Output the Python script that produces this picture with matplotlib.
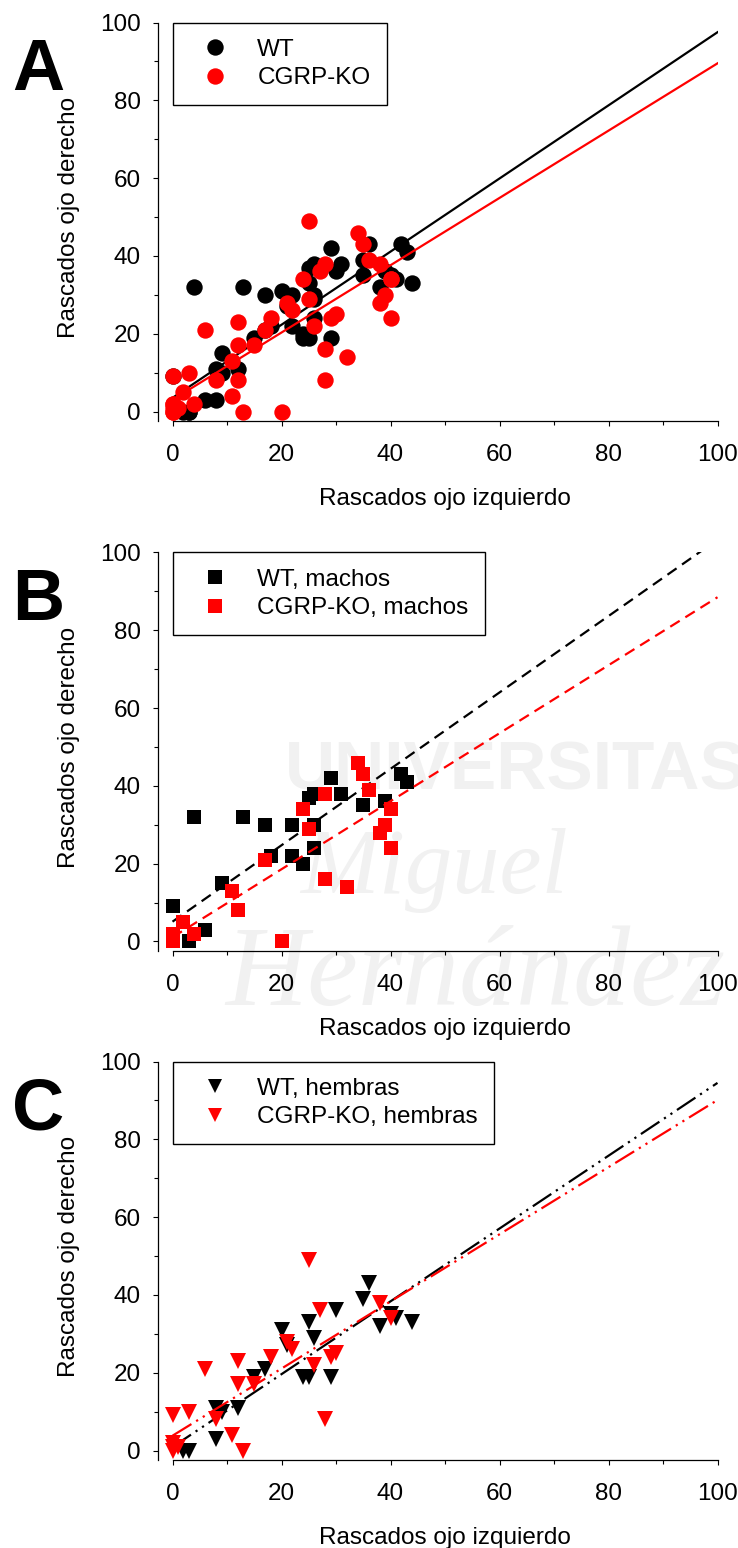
import matplotlib
matplotlib.use("Agg")
import matplotlib.pyplot as plt
from matplotlib.ticker import MultipleLocator

plt.rcParams['font.family'] = ['Liberation Sans', 'DejaVu Sans']

# ---- datos ----
# machos
wt_m_x = [0, 3, 6, 4, 13, 9, 17, 18, 22, 22, 24, 25, 26, 26, 26, 29, 31, 35, 39, 42, 43]
wt_m_y = [9, 0, 3, 32, 32, 15, 30, 22, 30, 22, 20, 37, 38, 30, 24, 42, 38, 35, 36, 43, 41]
ko_m_x = [0, 0, 2, 4, 11, 12, 17, 20, 24, 25, 28, 28, 32, 34, 35, 36, 38, 39, 40, 40]
ko_m_y = [0, 2, 5, 2, 13, 8, 21, 0, 34, 29, 38, 16, 14, 46, 43, 39, 28, 30, 34, 24]
# hembras
wt_f_x = [2, 3, 8, 8, 9, 12, 15, 17, 20, 21, 24, 25, 25, 26, 29, 30, 35, 36, 38, 40, 41, 44]
wt_f_y = [0, 0, 3, 11, 10, 11, 19, 21, 31, 27, 19, 19, 33, 29, 19, 36, 39, 43, 32, 35, 34, 33]
ko_f_x = [0, 0, 0, 1, 0, 3, 6, 8, 11, 12, 12, 13, 15, 18, 21, 22, 25, 26, 27, 28, 29, 30, 38, 40]
ko_f_y = [0, 1, 2, 1, 9, 10, 21, 8, 4, 23, 17, 0, 17, 24, 28, 26, 49, 22, 36, 8, 24, 25, 38, 34]
# todos
wt_all_x = wt_m_x + wt_f_x
wt_all_y = wt_m_y + wt_f_y
ko_all_x = ko_m_x + ko_f_x
ko_all_y = ko_m_y + ko_f_y

# rectas de regresion (ordenada, pendiente)
fit_wt_all = (3.5, 0.94)
fit_ko_all = (3.0, 0.865)
fit_wt_m = (5.1, 0.982)
fit_ko_m = (1.1, 0.874)
fit_wt_f = (0.9, 0.936)
fit_ko_f = (3.8, 0.863)

line_x = [0, 100]

W, H = 738, 1548
fig = plt.figure(figsize=(W / 100, H / 100), dpi=100)

X0, X100 = 172.5, 717.5
SY = 3.89
XMIN, YMIN = -2.6, -2.5
FS = 17.5

# marca de agua (fondo del documento)
wm = '#f1f1f1'
fig.text(285 / W, 1 - 790 / H, 'UNIVERSITAS', fontsize=50, weight='bold', color=wm, zorder=0)
fig.text(300 / W, 1 - 893 / H, 'Miguel', fontsize=68, family='Liberation Serif', style='italic', color=wm, zorder=0)
fig.text(225 / W, 1 - 1005 / H, 'Hernández', fontsize=82, family='Liberation Serif', style='italic', color=wm, zorder=0)


def panel(y100, letter, letter_base):
    sx = (X100 - X0) / 100
    left = X0 + XMIN * sx
    bottom = y100 + (100 - YMIN) * SY
    ax = fig.add_axes([left / W, 1 - bottom / H, (X100 - left) / W, (bottom - y100) / H])
    ax.set_zorder(1)
    ax.patch.set_visible(False)
    ax.set_xlim(XMIN, 100)
    ax.set_ylim(YMIN, 100)
    for s in ['top', 'right']:
        ax.spines[s].set_visible(False)
    for s in ['left', 'bottom']:
        ax.spines[s].set_linewidth(0.9)
    ax.spines['bottom'].set_bounds(0, 100)
    ax.xaxis.set_major_locator(MultipleLocator(20))
    ax.xaxis.set_minor_locator(MultipleLocator(10))
    ax.yaxis.set_major_locator(MultipleLocator(20))
    ax.yaxis.set_minor_locator(MultipleLocator(10))
    ax.tick_params(which='major', direction='out', length=3.6, width=0.8, labelsize=FS)
    ax.tick_params(which='minor', direction='out', length=2.6, width=0.8)
    ax.tick_params(axis='x', which='major', pad=13)
    ax.tick_params(axis='y', which='major', pad=9)
    ax.set_xlabel('Rascados ojo izquierdo', fontsize=FS, va='center')
    ax.set_ylabel('Rascados ojo derecho', fontsize=FS, va='center')
    hpx = bottom - y100
    ax.xaxis.set_label_coords((50 - XMIN) / (100 - XMIN), -(499 - 421) / hpx)
    ax.yaxis.set_label_coords((68.5 - left) / (X100 - left), (50 - YMIN) / (100 - YMIN))
    fig.text(12 / W, 1 - letter_base / H, letter, fontsize=52, weight='bold', va='baseline')
    return ax


def legend(ax, handles, labels, ms=1.0):
    leg = ax.legend(handles, labels, loc='upper left', bbox_to_anchor=(0, 100),
                    bbox_transform=ax.transData, borderaxespad=0, fancybox=False,
                    edgecolor='black', framealpha=1, borderpad=0.67, handlelength=2.15,
                    handletextpad=0.67, labelspacing=0.26, fontsize=FS, markerscale=ms)
    leg.get_frame().set_linewidth(1.0)


# ---- A ----
ax = panel(22.5, 'A', 90)
h1, = ax.plot(wt_all_x, wt_all_y, 'o', color='black', ms=11.8, mew=0, zorder=3)
ax.plot(line_x, [fit_wt_all[0] + fit_wt_all[1] * v for v in line_x], color='black', lw=1.6, zorder=4)
h2, = ax.plot(ko_all_x, ko_all_y, 'o', color='red', ms=11.8, mew=0, zorder=5)
ax.plot(line_x, [fit_ko_all[0] + fit_ko_all[1] * v for v in line_x], color='red', lw=1.6, zorder=6)
legend(ax, [h1, h2], ['WT', 'CGRP-KO'])

# ---- B ----
ax = panel(552.5, 'B', 620)
h1, = ax.plot(wt_m_x, wt_m_y, 's', color='black', ms=10, mew=0, zorder=3)
ax.plot(line_x, [fit_wt_m[0] + fit_wt_m[1] * v for v in line_x], color='black', lw=1.6,
        dashes=(5, 3), zorder=4)
h2, = ax.plot(ko_m_x, ko_m_y, 's', color='red', ms=10, mew=0, zorder=5)
ax.plot(line_x, [fit_ko_m[0] + fit_ko_m[1] * v for v in line_x], color='red', lw=1.6,
        dashes=(5, 3), zorder=6)
legend(ax, [h1, h2], ['WT, machos', 'CGRP-KO, machos'])

# ---- C ----
ax = panel(1061.5, 'C', 1130)
ddd = (10, 2.5, 1, 2.5, 1, 2.5)
h1, = ax.plot(wt_f_x, wt_f_y, 'v', color='black', ms=11.5, mew=0, zorder=3)
ax.plot(line_x, [fit_wt_f[0] + fit_wt_f[1] * v for v in line_x], color='black', lw=1.6,
        dashes=ddd, zorder=4)
h2, = ax.plot(ko_f_x, ko_f_y, 'v', color='red', ms=11.5, mew=0, zorder=5)
ax.plot(line_x, [fit_ko_f[0] + fit_ko_f[1] * v for v in line_x], color='red', lw=1.6,
        dashes=ddd, zorder=6)
legend(ax, [h1, h2], ['WT, hembras', 'CGRP-KO, hembras'], ms=0.9)

fig.savefig('out.png', dpi=100)
